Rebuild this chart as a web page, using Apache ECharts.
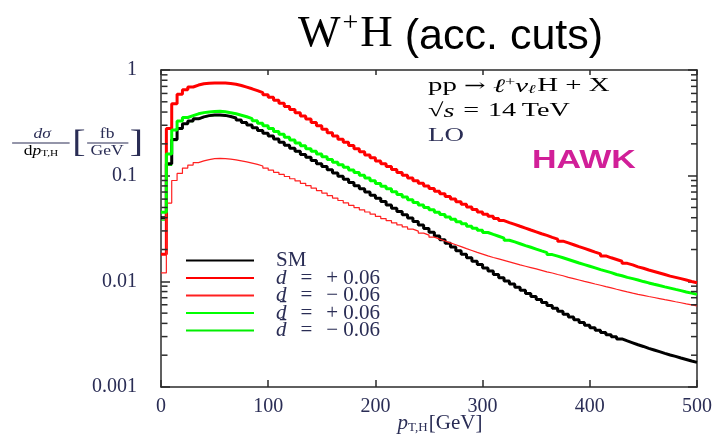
<!DOCTYPE html>
<html>
<head>
<meta charset="utf-8">
<script src="https://cdn.jsdelivr.net/npm/echarts@6/dist/echarts.min.js"></script>
<style>
  html, body { margin: 0; padding: 0; background: #fff; }
  #chart { width: 714px; height: 437px; }
</style>
</head>
<body>
<div id="chart"></div>
<script>
// histogram bins in p_T,H, 5 GeV wide, 0..500 GeV
const binWidth = 5

const smValues = [
  0.04, 0.13, 0.22, 0.28, 0.31, 0.33, 0.345, 0.36, 0.37, 0.375,
  0.375, 0.372, 0.363, 0.351, 0.336, 0.318, 0.301, 0.284, 0.268, 0.252,
  0.237, 0.222, 0.207, 0.194, 0.182, 0.170, 0.159, 0.149, 0.139, 0.130,
  0.122, 0.1135, 0.106, 0.0989, 0.0923, 0.0861, 0.0804, 0.0750, 0.0700, 0.0653,
  0.0610, 0.0568, 0.0528, 0.0492, 0.0458, 0.0427, 0.0397, 0.0369, 0.0342, 0.0316,
  0.0292, 0.0269, 0.0248, 0.0229, 0.0211, 0.0195, 0.0180, 0.0167, 0.0155, 0.0144,
  0.0134, 0.0125, 0.0116, 0.0108, 0.0101, 0.00944, 0.00881, 0.00822, 0.00767, 0.00718,
  0.00673, 0.00631, 0.00592, 0.00555, 0.00520, 0.00489, 0.00459, 0.00433, 0.00407, 0.00385,
  0.00364, 0.00345, 0.00328, 0.00313, 0.00299, 0.00285, 0.00273, 0.00262, 0.00251, 0.00242,
  0.00232, 0.00224, 0.00216, 0.00208, 0.00201, 0.00195, 0.00188, 0.00182, 0.00176, 0.00171
]

const dPlusValues = [
  0.018, 0.28, 0.48, 0.59, 0.65, 0.69, 0.72, 0.74, 0.75, 0.755,
  0.755, 0.752, 0.745, 0.733, 0.713, 0.689, 0.664, 0.637, 0.610, 0.582,
  0.551, 0.518, 0.484, 0.452, 0.422, 0.394, 0.367, 0.343, 0.319, 0.296,
  0.275, 0.255, 0.237, 0.221, 0.207, 0.193, 0.180, 0.168, 0.157, 0.148,
  0.138, 0.130, 0.122, 0.1145, 0.107, 0.101, 0.0951, 0.0897, 0.0847, 0.0800,
  0.0755, 0.0713, 0.0673, 0.0635, 0.0600, 0.0566, 0.0535, 0.0505, 0.0478, 0.0453,
  0.0432, 0.0412, 0.0394, 0.0376, 0.0360, 0.0346, 0.0332, 0.0319, 0.0306, 0.0294,
  0.0282, 0.0272, 0.0261, 0.0251, 0.0240, 0.0231, 0.0222, 0.0213, 0.0205, 0.0197,
  0.0189, 0.0182, 0.0174, 0.0167, 0.0161, 0.0155, 0.0148, 0.0143, 0.0137, 0.0133,
  0.0128, 0.0124, 0.0120, 0.0116, 0.0112, 0.0109, 0.0106, 0.0103, 0.00998, 0.00968
]

const dMinusValues = [
  0.012, 0.055, 0.09, 0.105, 0.118, 0.126, 0.133, 0.138, 0.142, 0.145,
  0.146, 0.145, 0.1435, 0.141, 0.138, 0.135, 0.1315, 0.128, 0.1235, 0.118,
  0.1127, 0.1076, 0.1028, 0.0982, 0.0935, 0.0891, 0.0847, 0.0804, 0.0762, 0.0723,
  0.0684, 0.0647, 0.0614, 0.0582, 0.0552, 0.0524, 0.0499, 0.0475, 0.0453, 0.0432,
  0.0411, 0.0393, 0.0375, 0.0358, 0.0342, 0.0327, 0.0312, 0.0299, 0.0286, 0.0274,
  0.0262, 0.0251, 0.0241, 0.0231, 0.0222, 0.0213, 0.0204, 0.0196, 0.0188, 0.0181,
  0.0174, 0.0168, 0.0163, 0.0158, 0.0153, 0.0148, 0.0143, 0.0139, 0.0135, 0.0131,
  0.0127, 0.0123, 0.0120, 0.0116, 0.0113, 0.0109, 0.0106, 0.0103, 0.0100, 0.00973,
  0.00944, 0.00918, 0.00891, 0.00867, 0.00841, 0.00818, 0.00794, 0.00773, 0.00753, 0.00736,
  0.00719, 0.00703, 0.00687, 0.00671, 0.00656, 0.00641, 0.00627, 0.00612, 0.00598, 0.00585
]

const dbarPlusValues = [
  0.045, 0.16, 0.27, 0.33, 0.355, 0.37, 0.385, 0.395, 0.40, 0.405,
  0.406, 0.402, 0.394, 0.385, 0.373, 0.361, 0.347, 0.331, 0.314, 0.296,
  0.279, 0.262, 0.246, 0.231, 0.217, 0.204, 0.192, 0.180, 0.170, 0.160,
  0.151, 0.142, 0.134, 0.127, 0.120, 0.113, 0.107, 0.101, 0.0951, 0.0897,
  0.0845, 0.0796, 0.0750, 0.0706, 0.0665, 0.0627, 0.0592, 0.0558, 0.0528, 0.0501,
  0.0475, 0.0451, 0.0428, 0.0406, 0.0386, 0.0367, 0.0350, 0.0333, 0.0318, 0.0304,
  0.0290, 0.0278, 0.0267, 0.0256, 0.0245, 0.0236, 0.0227, 0.0218, 0.0210, 0.0202,
  0.0194, 0.0187, 0.0179, 0.0173, 0.0167, 0.0161, 0.0155, 0.0149, 0.0144, 0.0139,
  0.0134, 0.0129, 0.0125, 0.0121, 0.0116, 0.0113, 0.0109, 0.0106, 0.0103, 0.00995,
  0.00966, 0.00938, 0.00912, 0.00887, 0.00863, 0.00839, 0.00817, 0.00794, 0.00773, 0.00752
]

// sits right under the SM curve in the picture
const dbarMinusValues = [
  0.038, 0.125, 0.215, 0.275, 0.305, 0.325, 0.34, 0.355, 0.365, 0.37,
  0.372, 0.37, 0.361, 0.349, 0.334, 0.317, 0.300, 0.283, 0.267, 0.251,
  0.236, 0.221, 0.207, 0.194, 0.181, 0.169, 0.158, 0.148, 0.138, 0.129,
  0.121, 0.113, 0.1055, 0.0985, 0.092, 0.0858, 0.0801, 0.0748, 0.0698, 0.0651,
  0.0608, 0.0566, 0.0527, 0.0491, 0.0457, 0.0426, 0.0396, 0.0368, 0.0341, 0.0316,
  0.0292, 0.0269, 0.0248, 0.0229, 0.0211, 0.0195, 0.0180, 0.0167, 0.0155, 0.0144,
  0.0134, 0.0125, 0.0116, 0.0108, 0.0101, 0.00944, 0.00881, 0.00822, 0.00767, 0.00718,
  0.00673, 0.00631, 0.00592, 0.00555, 0.00520, 0.00489, 0.00459, 0.00433, 0.00407, 0.00385,
  0.00364, 0.00345, 0.00328, 0.00313, 0.00299, 0.00285, 0.00273, 0.00262, 0.00251, 0.00242,
  0.00232, 0.00224, 0.00216, 0.00208, 0.00201, 0.00195, 0.00188, 0.00182, 0.00176, 0.00171
]

const xMin = 0
const xMax = 500
const xInterval = 100
const yMin = 0.001
const yMax = 1
const minorTickValues = [
  0.002, 0.003, 0.004, 0.005, 0.006, 0.007, 0.008, 0.009,
  0.02, 0.03, 0.04, 0.05, 0.06, 0.07, 0.08, 0.09,
  0.2, 0.3, 0.4, 0.5, 0.6, 0.7, 0.8, 0.9
]

const legendNames = ["SM", "d+", "d-", "dbar+", "dbar-"]
const legendLabels = {
  "SM": "{r|SM}",
  "d+": "{i|d}{e|=}{g|+}{r|0.06}",
  "d-": "{i|d}{e|=}{g|\u2212}{r|0.06}",
  "dbar+": "{i|d\u0304}{e|=}{g|+}{r|0.06}",
  "dbar-": "{i|d\u0304}{e|=}{g|\u2212}{r|0.06}",
}

const serif = "'Liberation Serif', 'DejaVu Serif', serif"
const navy = "#2a2d55"
const frame = "#2b2b2b"

// bins -> step points, last edge repeats the last value
const toSteps = (values) =>
  values.map((v, i) => [i * binWidth, v]).concat([[values.length * binWidth, values[values.length - 1]]])

const chart = echarts.init(document.getElementById("chart"))

const histSeries = (name, values, color, width, z) => ({
  name,
  type: "line",
  step: "end",
  data: toSteps(values),
  showSymbol: false,
  symbol: "none",
  lineStyle: { color, width },
  itemStyle: { color },
  animation: false,
  z,
})

const legendRich = {
  r: { fontFamily: serif, fontSize: 21, color: navy, lineHeight: 18 },
  i: { fontFamily: serif, fontSize: 21, fontStyle: "italic", color: navy, lineHeight: 18 },
  e: { fontFamily: serif, fontSize: 21, color: navy, lineHeight: 18, padding: [0, 14, 0, 14] },
  g: { fontFamily: serif, fontSize: 21, color: navy, lineHeight: 18, padding: [0, 5, 0, 0] },
}

const noteRich = {
  r: { fontFamily: serif, fontSize: 19, color: navy },
  i: { fontFamily: serif, fontSize: 19, fontStyle: "italic", color: navy },
  e: { fontFamily: serif, fontSize: 19, color: navy, padding: [0, 6, 0, 6] },
  a: { fontFamily: "'DejaVu Serif', serif", fontSize: 17, color: navy },
  sup: { fontFamily: serif, fontSize: 12, color: navy, verticalAlign: "top", padding: [0, 0, 6, 0] },
  sub: { fontFamily: serif, fontSize: 12, fontStyle: "italic", color: navy, verticalAlign: "bottom", padding: [6, 1, 0, 0] },
}

chart.setOption({
  animation: false,
  grid: { left: 161, right: 17, top: 70, bottom: 50, outerBoundsMode: "none", containLabel: false },
  legend: {
    data: legendNames,
    orient: "vertical",
    left: 185,
    top: 250,
    padding: 0,
    itemWidth: 68,
    itemHeight: 12,
    itemGap: -3.5,
    itemStyle: { opacity: 0 },
    formatter: (name) => legendLabels[name],
    textStyle: { padding: [0, 0, 0, 17], lineHeight: 18, rich: legendRich },
  },
  xAxis: [
    {
      type: "value",
      min: xMin,
      max: xMax,
      interval: xInterval,
      name: "{i|p}{s|T,H}{r|[GeV]}",
      nameLocation: "middle",
      nameGap: 26,
      nameMoveOverlap: false,
      nameTextStyle: {
        padding: [0, 0, 0, 22],
        rich: {
          i: { fontFamily: serif, fontSize: 21, fontStyle: "italic", color: navy },
          s: { fontFamily: serif, fontSize: 13, color: navy, verticalAlign: "bottom", padding: [8, 1, 0, 0] },
          r: { fontFamily: serif, fontSize: 21, color: navy },
        },
      },
      axisLine: { onZero: false, lineStyle: { color: frame, width: 1.5 } },
      axisTick: { inside: true, length: 7, lineStyle: { color: frame, width: 1.5 } },
      axisLabel: { fontFamily: serif, fontSize: 20, color: navy, margin: 10 },
      splitLine: { show: false },
    },
    {
      type: "value",
      position: "top",
      min: xMin,
      max: xMax,
      interval: xInterval,
      axisLine: { onZero: false, lineStyle: { color: frame, width: 1.5 } },
      axisTick: { inside: true, length: 5, lineStyle: { color: frame, width: 1.5 } },
      axisLabel: { show: false },
      splitLine: { show: false },
    },
  ],
  yAxis: [
    {
      type: "log",
      logBase: 10,
      min: yMin,
      max: yMax,
      axisLine: { show: true, onZero: false, lineStyle: { color: frame, width: 1.5 } },
      axisTick: { show: true, inside: true, length: 9, lineStyle: { color: frame, width: 1.5 } },
      axisLabel: {
        fontFamily: serif,
        fontSize: 20,
        color: navy,
        margin: 24,
        formatter: (v) => String(Number(v.toPrecision(3))),
      },
      splitLine: { show: false },
    },
    {
      type: "log",
      logBase: 10,
      position: "right",
      min: yMin,
      max: yMax,
      axisLine: { show: true, onZero: false, lineStyle: { color: frame, width: 1.5 } },
      axisTick: { show: true, inside: true, length: 9, lineStyle: { color: frame, width: 1.5 } },
      axisLabel: { show: false },
      splitLine: { show: false },
    },
  ],
  series: [
    histSeries("dbar-", dbarMinusValues, "#00ee00", 1.2, 2),
    histSeries("SM", smValues, "#000000", 3, 3),
    histSeries("d+", dPlusValues, "#ff0000", 3, 4),
    histSeries("d-", dMinusValues, "#ff2020", 1.2, 5),
    histSeries("dbar+", dbarPlusValues, "#00ff00", 3, 6),
  ],
  graphic: [
    {
      id: "title",
      type: "text",
      left: 298,
      top: 10,
      style: {
        text: "{m|W}{sup|+}{m|H}{s|(acc. cuts)}",
        rich: {
          m: { fontFamily: serif, fontSize: 45, color: "#1a1a1a" },
          sup: { fontFamily: serif, fontSize: 28, color: "#1a1a1a", verticalAlign: "top", padding: [0, 2, 12, 2] },
          s: { fontFamily: "'Liberation Sans', Arial, sans-serif", fontSize: 43, color: "#1a1a1a", padding: [6, 0, 0, 12] },
        },
      },
    },
    {
      id: "process",
      type: "text",
      left: 428,
      top: 77,
      scaleX: 1.52,
      style: {
        text: "{r|pp }{a|\u2192}{r| }{i|\u2113}{sup|+}{i|\u03bd}{sub|\u2113}{r|H + X}",
        rich: noteRich,
      },
    },
    {
      id: "energy",
      type: "text",
      left: 428,
      top: 102,
      scaleX: 1.48,
      style: { text: "{r|\u221a}{i|s}{e|=}{r|14\u2009TeV}", rich: noteRich },
    },
    {
      id: "order",
      type: "text",
      left: 428,
      top: 127,
      scaleX: 1.42,
      style: { text: "LO", font: `19px ${serif}`, fill: navy },
    },
    {
      id: "hawk",
      type: "text",
      left: 532,
      top: 149,
      scaleX: 1.36,
      style: {
        text: "HAWK",
        font: "bold 25px 'Liberation Sans', Arial, sans-serif",
        fill: "#d11f98",
      },
    },
    // y axis title: d sigma / d pT,H [fb / GeV]
    {
      id: "ytitle",
      type: "group",
      left: 9,
      top: 127,
      scaleX: 1.25,
      children: [
        { type: "text", x: 24, y: 16, style: { text: "d\u03c3", font: `italic 14px ${serif}`, fill: navy, align: "center", verticalAlign: "bottom" } },
        { type: "line", shape: { x1: 0, y1: 18, x2: 46, y2: 18 }, style: { stroke: navy, lineWidth: 1 } },
        {
          type: "text",
          x: 23,
          y: 19,
          style: {
            text: "{r|d}{i|p}{s|T,H}",
            align: "center",
            verticalAlign: "top",
            rich: {
              r: { fontFamily: serif, fontSize: 14, color: navy },
              i: { fontFamily: serif, fontSize: 14, fontStyle: "italic", color: navy },
              s: { fontFamily: serif, fontSize: 9, color: navy, verticalAlign: "bottom", padding: [4, 0, 0, 0] },
            },
          },
        },
        { type: "text", x: 48, y: 19, style: { text: "[", font: `32px ${serif}`, fill: navy, verticalAlign: "middle" } },
        { type: "text", x: 76, y: 16, style: { text: "fb", font: `14px ${serif}`, fill: navy, align: "center", verticalAlign: "bottom" } },
        { type: "line", shape: { x1: 60, y1: 18, x2: 93, y2: 18 }, style: { stroke: navy, lineWidth: 1 } },
        { type: "text", x: 76, y: 19, style: { text: "GeV", font: `14px ${serif}`, fill: navy, align: "center", verticalAlign: "top" } },
        { type: "text", x: 94, y: 19, style: { text: "]", font: `32px ${serif}`, fill: navy, verticalAlign: "middle" } },
      ],
    },
  ],
})

// log minor ticks on both frame sides, placed through the axes' own scale
// (left side found from the right edge and the midpoint, so x = 0 is never converted)
const finder = { xAxisIndex: 0, yAxisIndex: 0 }
const minorTicks = []
minorTickValues.forEach((v, i) => {
  const right = chart.convertToPixel(finder, [xMax, v])
  const mid = chart.convertToPixel(finder, [(xMin + xMax) / 2, v])
  const xr = right[0]
  const xl = xr - 2 * (xr - mid[0])
  const y = right[1]
  minorTicks.push({ id: "tl" + i, type: "line", z: 100, shape: { x1: xl + 0.5, y1: y, x2: xl + 6.5, y2: y }, style: { stroke: frame, lineWidth: 1.5 } })
  minorTicks.push({ id: "tr" + i, type: "line", z: 100, shape: { x1: xr - 6, y1: y, x2: xr, y2: y }, style: { stroke: frame, lineWidth: 1.5 } })
})
chart.setOption({ graphic: minorTicks })
</script>
</body>
</html>
